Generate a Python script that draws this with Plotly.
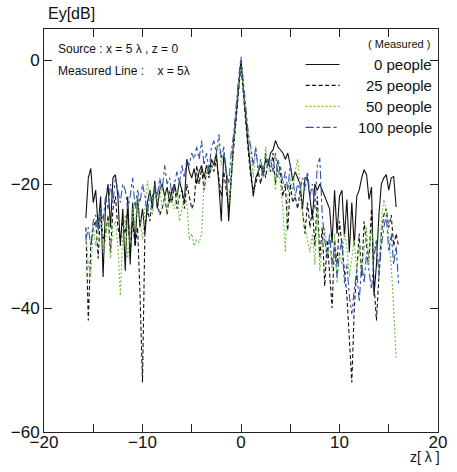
import numpy as np
import plotly.graph_objects as go

# z positions [lambda]
z = [round(-15.75 + 0.25 * i, 2) for i in range(128)]

# Ey [dB] for each crowd size (groups of 4 samples per lambda)
people0 = [
    -25.5, -19, -17.5, -23,   -21, -27, -22, -35,   -23, -20, -27, -19,   -18.5, -22, -30, -24,
    -34, -22, -33, -23,       -30, -22, -27, -24,   -28, -23, -21, -24,   -19.5, -24, -21, -20,
    -22, -20.5, -23, -21,     -20, -22, -19.5, -21, -23, -16, -18, -19,   -17.5, -20, -18, -17,
    -19, -17, -18.5, -16,     -17, -15, -20, -26,   -15, -18, -26, -19,   -13, -9, -4.5, 0,
    -5, -10, -14, -18,        -22, -19, -18, -17,   -18.5, -16, -17, -15, -14.5, -13, -14, -14.5,
    -15, -16, -15, -17,       -19.5, -18, -19, -20, -24, -19, -19, -22,   -25.5, -20, -21, -20,
    -21, -22, -23, -24,       -29.5, -21, -28, -22, -21, -28.5, -22.5, -31, -23, -30, -22, -21,
    -19, -17.7, -18.5, -22.5, -20.5, -38, -33, -25, -20, -19, -18.5, -21, -19, -18.8, -23.7, None,
]
people25 = [
    -27, -42, -30, -27,       -26, -32, -24, -29,   -28, -25, -31, -24,   -22, -27, -29, -26,
    -28, -24, -31, -26,       -30, -27, -38, -52,   -27, -24, -26, -22,   -21, -23, -25, -24,
    -22, -25, -21, -23,       -20, -24, -22, -21,   -24, -20, -22, -24,   -23, -17, -20, -17.5,
    -21, -18, -19, -17,       -18, -16, -19, -22,   -18, -21, -24, -19,   -14, -10, -5, -1,
    -6, -11, -15, -19,        -21, -20, -18, -20,   -17, -19, -16, -18,   -15, -20, -16, -18,
    -22, -20, -27.5, -20,     -23, -22, -24, -21,   -25, -28, -23, -27,   -24, -30, -22, -32,
    -27, -36.5, -29, -34,     -40, -29, -33, -26,   -30, -35, -38, -45,   -52, -40, -33, -28,
    -35, -26, -30, -32,       -24, -36, -42, -35,   -28, -25, -24, -27,   -25, -30, -28, -30,
]
people50 = [
    -28, -33, -35, -27,       -30, -26, -24, -31,   -29, -25, -32, -27,   -26, -30, -38, -28,
    -25, -32, -28, -24,       -27, -22, -26, -29,   -24, -19.5, -22, -25, -21, -23, -20, -24,
    -22, -25, -21, -23,       -24, -21, -26, -24,   -22, -23, -29, -28,   -30, -29, -29.5, -28,
    -20, -18, -17, -18,       -16, -15, -13.5, -17, -15, -17, -23, -20,   -13, -8, -4, -1,
    -5, -9, -12, -15,         -19, -14, -18, -16,   -19, -14, -18, -17,   -17, -21, -16, -20,
    -24, -31, -22, -19,       -21, -18, -16, -20,   -25, -27, -29, -31,   -28, -33, -24, -34,
    -30, -27, -32, -29,       -34, -28, -36, -31,   -33, -28, -30, -35,   -32, -29, -34, -30,
    -34, -31, -27, -33,       -27, -31, -29, -34,   -26, -22.5, -24, -28, -33, -40, -48, None,
]
people100 = [
    -29, -27, -30, -26,       -25, -28, -24, -26,   -22, -24, -20, -23,   -19, -21, -23, -20,
    -21, -24, -22, -19,       -24, -21, -23, -20,   -22, -25, -21, -23,   -20, -22, -19, -21,
    -17, -20, -19, -22,       -20, -18, -20, -17,   -19, -16, -17, -15,   -16, -14, -16, -13,
    -17, -15, -18, -14,       -13, -15, -12, -16,   -14, -18, -20, -15,   -12, -7, -3, 0.5,
    -4, -8, -12, -14,         -17, -14, -18, -16,   -19, -15, -17, -16,   -18, -15, -19, -17,
    -20, -18, -21, -17,       -19, -22, -20, -21,   -19, -21, -18, -22,   -20, -24, -17, -15.8,
    -25, -29, -32, -28,       -33, -30, -35, -31,   -29, -36, -33, -38,   -41, -37, -34, -39,
    -33, -36, -31, -34,       -37, -32, -29, -35,   -30, -27, -25, -31,   -28, -33, -30, -36,
]

series_names = ["0 people", "25 people", "50 people", "100 people"]
series_vals = [people0, people25, people50, people100]
colors = ["#111111", "#111111", "#6cc040", "#3052b0"]
dashes = ["solid", "4px,2.5px", "2px,2px", "8px,3px,3px,3px"]

x_ticks = [-20, -15, -10, -5, 0, 5, 10, 15, 20]
x_ticktext = ["\u221220", "", "\u221210", "", "0", "", "10", "", "20"]
y_ticks = [0, -20, -40, -60]
y_ticktext = ["0", "\u221220", "\u221240", "\u221260"]

FONT = "Liberation Sans, Arial, sans-serif"

fig = go.Figure()
for name, vals, c, d in zip(series_names, series_vals, colors, dashes):
    fig.add_trace(go.Scatter(x=z, y=vals, mode="lines", name=name,
                             line=dict(color=c, width=1.1, dash=d),
                             connectgaps=False, showlegend=False, hoverinfo="skip"))

fig.update_layout(
    width=457, height=472,
    margin=dict(l=44, r=10, t=29, b=40),
    paper_bgcolor="white", plot_bgcolor="white",
    font=dict(family=FONT, color="#111111"),
    showlegend=False,
)
fig.update_xaxes(range=[-20, 20], tickvals=x_ticks, ticktext=x_ticktext,
                 ticks="inside", ticklen=8, tickwidth=1, tickcolor="#222",
                 showline=True, linecolor="#222", linewidth=1, mirror="ticks",
                 ticklabelstandoff=-5,
                 showgrid=False, zeroline=False, tickfont=dict(size=17, family=FONT))
fig.update_yaxes(range=[-60, 5], tickvals=y_ticks, ticktext=y_ticktext,
                 ticks="inside", ticklen=8, tickwidth=1, tickcolor="#222",
                 showline=True, linecolor="#222", linewidth=1, mirror="ticks",
                 showgrid=False, zeroline=False, tickfont=dict(size=17, family=FONT))

# axis titles
fig.add_annotation(text="Ey[dB]", xref="paper", yref="paper", x=0.005, y=1.0,
                   yshift=5, xanchor="left", yanchor="bottom", showarrow=False,
                   font=dict(size=16, family=FONT))
fig.add_annotation(text="z[ \u03bb ]", xref="paper", yref="paper", x=1.0, y=0,
                   yshift=-15, xshift=4, xanchor="right", yanchor="top", showarrow=False,
                   font=dict(size=14, family=FONT))

# source notes
fig.add_annotation(text="Source : x = 5 \u03bb , z = 0", xref="paper", yref="paper",
                   x=0.03, y=0.95, xanchor="left", yanchor="middle", showarrow=False,
                   font=dict(size=12, family=FONT))
fig.add_annotation(text="Measured Line :    x = 5\u03bb", xref="paper", yref="paper",
                   x=0.03, y=0.895, xanchor="left", yanchor="middle", showarrow=False,
                   font=dict(size=12, family=FONT))

# manual legend (right aligned text)
fig.add_annotation(text="( Measured )", xref="paper", yref="paper",
                   x=0.985, y=0.963, xanchor="right", yanchor="middle", showarrow=False,
                   font=dict(size=11, family=FONT))
leg_y = [0.912, 0.860, 0.808, 0.756]
for name, c, d, yy in zip(series_names, colors, dashes, leg_y):
    fig.add_annotation(text=name, xref="paper", yref="paper", x=0.99, y=yy,
                       xanchor="right", yanchor="middle", showarrow=False,
                       font=dict(size=15, family=FONT))
    fig.add_shape(type="line", xref="paper", yref="paper", x0=0.664, x1=0.75,
                  y0=yy, y1=yy, line=dict(color=c, width=1.1, dash=d))

fig.write_html("out.html", config={"displayModeBar": False},
               post_script="document.body.style.margin='0';document.body.style.overflow='hidden';")
